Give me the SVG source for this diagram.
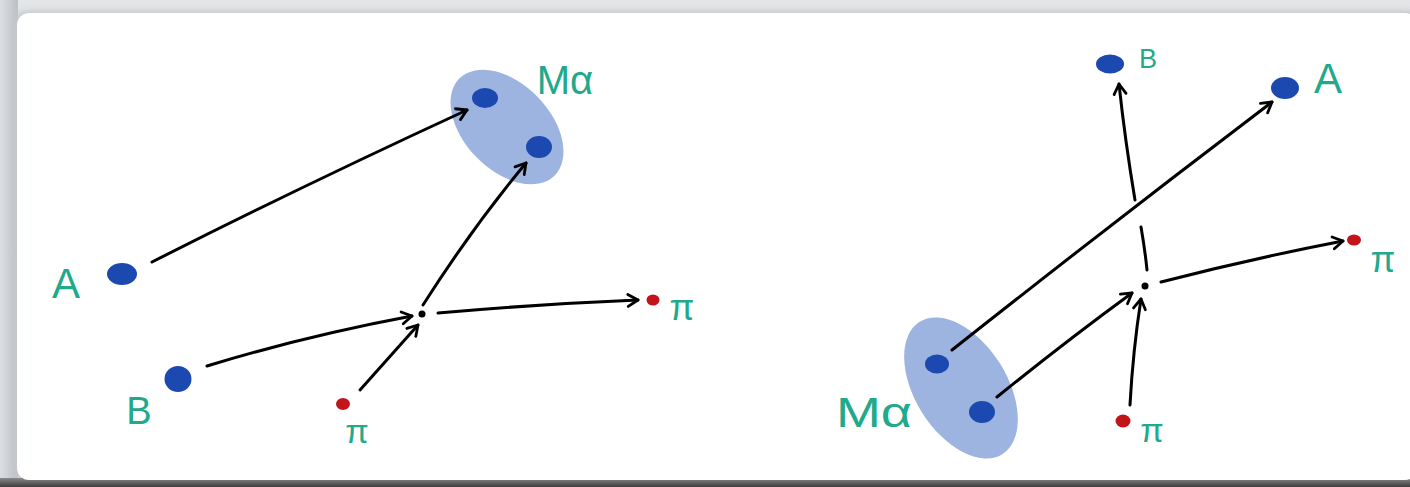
<svg xmlns="http://www.w3.org/2000/svg" width="1410" height="487" viewBox="0 0 1410 487">
  <defs>
    <style>
      .lbl { font-family: "Liberation Sans", "DejaVu Sans", sans-serif; fill: #21a98b; text-anchor: middle; }
      .dot { fill: #1b49b0; }
      .pi { fill: #c21419; }
      .blob { fill: #9db3e0; }
      .jn { fill: #000; }
      .conn { fill: none; stroke: #000; stroke-width: 3; stroke-linecap: round; }
      .arr { marker-end: url(#head); }
    </style>
    <marker id="head" viewBox="0 0 14 14" refX="12" refY="7" markerWidth="14" markerHeight="14" markerUnits="userSpaceOnUse" orient="auto" overflow="visible">
      <path d="M2,1 L12,7 L2,13" fill="none" stroke="#000" stroke-width="2.8" stroke-linecap="round" stroke-linejoin="round"/>
    </marker>
    <linearGradient id="leftShade" x1="0" y1="0" x2="1" y2="0">
      <stop offset="0" stop-color="#dcdfe2"/>
      <stop offset="1" stop-color="#bcc0c5"/>
    </linearGradient>
    <linearGradient id="bottomShade" x1="0" y1="0" x2="0" y2="1">
      <stop offset="0" stop-color="#8a8a8a"/>
      <stop offset="1" stop-color="#3c3c3c"/>
    </linearGradient>
    <filter id="soft" x="-5%" y="-5%" width="110%" height="110%">
      <feGaussianBlur stdDeviation="3"/>
    </filter>
  </defs>

  <!-- background and paper card -->
  <g id="paper">
    <rect x="0" y="0" width="1410" height="487" fill="#e3e5e7"/>
    <rect x="0" y="0" width="18" height="487" fill="url(#leftShade)"/>
    <rect x="13" y="11" width="1410" height="472" rx="14" fill="#c3c7cb" filter="url(#soft)"/>
    <rect x="0" y="478" width="1410" height="9" fill="url(#bottomShade)"/>
    <rect x="17" y="13" width="1400" height="467" rx="12" fill="#ffffff"/>
  </g>

  <!-- left panel nodes -->
  <g id="left-Ma">
    <ellipse class="blob" cx="507" cy="127" rx="68" ry="43" transform="rotate(46 507 127)"/>
    <ellipse class="dot" cx="485" cy="98" rx="13" ry="10"/>
    <ellipse class="dot" cx="539" cy="147" rx="13" ry="11"/>
    <text class="lbl" x="565" y="94" font-size="40">Mα</text>
  </g>
  <g id="left-A">
    <ellipse class="dot" cx="122" cy="274" rx="15" ry="11"/>
    <text class="lbl" x="66" y="298" font-size="42">A</text>
  </g>
  <g id="left-B">
    <ellipse class="dot" cx="178" cy="379" rx="13.5" ry="13"/>
    <text class="lbl" x="139" y="424" font-size="38">B</text>
  </g>
  <g id="left-junction">
    <circle class="jn" cx="422" cy="314" r="3.5"/>
  </g>
  <g id="left-pi-in">
    <ellipse class="pi" cx="343" cy="404" rx="7" ry="6"/>
    <text class="lbl" x="357" y="443" font-size="34">π</text>
  </g>
  <g id="left-pi-out">
    <ellipse class="pi" cx="653" cy="300" rx="6.5" ry="5.5"/>
    <text class="lbl" x="682" y="320" font-size="36">π</text>
  </g>

  <!-- right panel nodes -->
  <g id="right-Ma">
    <ellipse class="blob" cx="961" cy="388" rx="78" ry="46" transform="rotate(58 961 388)"/>
    <ellipse class="dot" cx="937" cy="364" rx="12" ry="9.5"/>
    <ellipse class="dot" cx="982" cy="412" rx="13" ry="11"/>
    <text class="lbl" x="874" y="427" font-size="42" textLength="76" lengthAdjust="spacingAndGlyphs">Mα</text>
  </g>
  <g id="right-B">
    <ellipse class="dot" cx="1110" cy="64" rx="14" ry="9.5"/>
    <text class="lbl" x="1148" y="68" font-size="27">B</text>
  </g>
  <g id="right-A">
    <ellipse class="dot" cx="1285" cy="88" rx="14" ry="11"/>
    <text class="lbl" x="1328" y="93" font-size="42">A</text>
  </g>
  <g id="right-junction">
    <circle class="jn" cx="1145" cy="286" r="3.5"/>
  </g>
  <g id="right-pi-in">
    <ellipse class="pi" cx="1123" cy="421" rx="7.5" ry="6.5"/>
    <text class="lbl" x="1152" y="442" font-size="34">π</text>
  </g>
  <g id="right-pi-out">
    <ellipse class="pi" cx="1354" cy="240" rx="7" ry="5.5"/>
    <text class="lbl" x="1383" y="272" font-size="36">π</text>
  </g>

  <!-- connectors -->
  <g id="connectors">
    <!-- left panel -->
    <path class="conn arr" d="M152,262 Q300,187 467,110"/>
    <path class="conn arr" d="M423,305 Q472,228 526,163"/>
    <path class="conn arr" d="M207,366 Q305,336 412,316"/>
    <path class="conn arr" d="M360,390 Q392,354 418,325"/>
    <path class="conn arr" d="M438,313 Q540,304 638,300"/>
    <!-- right panel -->
    <path class="conn arr" d="M952,350 Q1110,225 1272,102"/>
    <path class="conn arr" d="M997,397 Q1065,342 1132,293"/>
    <path class="conn arr" d="M1130,405 Q1133,350 1141,299"/>
    <path class="conn" d="M1141,227 Q1145,250 1147,270"/>
    <path class="conn arr" d="M1135,200 Q1125,140 1119,84"/>
    <path class="conn arr" d="M1161,282 Q1250,259 1343,241"/>
  </g>
</svg>
